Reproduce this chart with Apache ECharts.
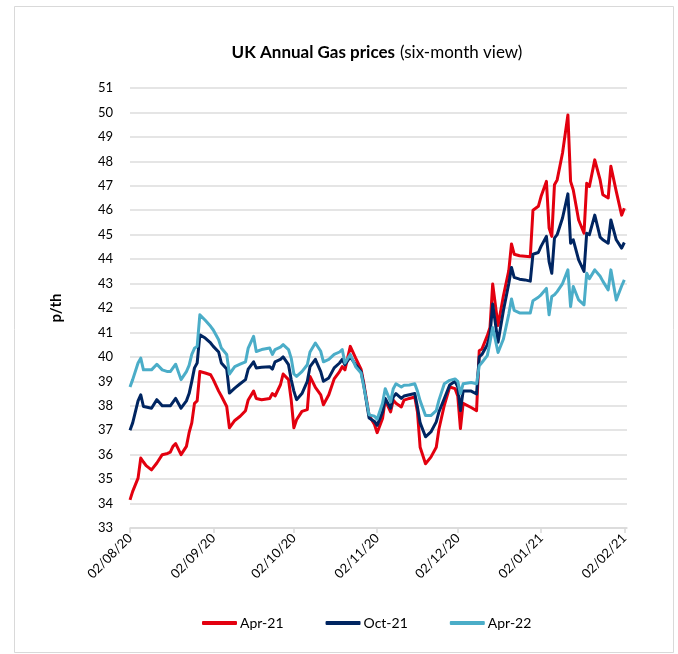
<!DOCTYPE html>
<html>
<head>
<meta charset="utf-8">
<script src="https://cdn.jsdelivr.net/npm/echarts@6/dist/echarts.min.js"></script>
<style>
html,body{margin:0;padding:0;background:#fff;}
#chart{width:678px;height:654px;}
</style>
</head>
<body>
<div id="chart"></div>
<script>
const dates = [
'2020-08-02','2020-08-03','2020-08-05','2020-08-06','2020-08-07','2020-08-08','2020-08-10','2020-08-12','2020-08-14','2020-08-16','2020-08-17','2020-08-18','2020-08-19','2020-08-21','2020-08-23','2020-08-24','2020-08-25','2020-08-26','2020-08-27','2020-08-28','2020-08-30',
'2020-09-01','2020-09-02','2020-09-04','2020-09-05','2020-09-07','2020-09-08','2020-09-10','2020-09-12','2020-09-14','2020-09-15','2020-09-17','2020-09-18','2020-09-20','2020-09-23','2020-09-24','2020-09-25','2020-09-27','2020-09-28','2020-09-30',
'2020-10-01','2020-10-02','2020-10-03','2020-10-05','2020-10-07','2020-10-08','2020-10-10','2020-10-12','2020-10-13','2020-10-15','2020-10-17','2020-10-19','2020-10-20','2020-10-21','2020-10-23','2020-10-25','2020-10-27','2020-10-28','2020-10-30',
'2020-11-01','2020-11-02','2020-11-04','2020-11-05','2020-11-07','2020-11-08','2020-11-09','2020-11-11','2020-11-12','2020-11-14','2020-11-16','2020-11-17','2020-11-18','2020-11-20','2020-11-22','2020-11-24','2020-11-25','2020-11-27','2020-11-29',
'2020-12-01','2020-12-02','2020-12-03','2020-12-04','2020-12-07','2020-12-09','2020-12-10','2020-12-11','2020-12-13','2020-12-14','2020-12-15','2020-12-17','2020-12-19','2020-12-21','2020-12-22','2020-12-23','2020-12-25','2020-12-27','2020-12-29','2020-12-30',
'2021-01-01','2021-01-02','2021-01-04','2021-01-05','2021-01-06','2021-01-07','2021-01-08','2021-01-10','2021-01-12','2021-01-13','2021-01-14','2021-01-16','2021-01-18','2021-01-19','2021-01-20','2021-01-22','2021-01-24','2021-01-25','2021-01-27','2021-01-28','2021-01-30',
'2021-02-01','2021-02-02'
];
const apr21 = [
34.15,34.5,35.04,35.86,35.7,35.55,35.38,35.66,36.0,36.05,36.1,36.34,36.45,36.0,36.34,36.9,37.3,38.1,38.2,39.4,39.34,
39.27,39.07,38.6,38.4,37.97,37.1,37.4,37.57,37.8,38.24,38.6,38.3,38.25,38.3,38.5,38.4,38.86,39.3,39.07,
38.24,37.1,37.43,37.77,37.84,39.2,38.75,38.45,38.04,38.45,39.1,39.4,39.6,39.47,40.43,39.95,39.5,38.93,37.6,
37.23,36.9,37.48,38.23,37.75,38.23,38.1,37.95,38.23,38.3,38.36,37.75,36.3,35.63,35.9,36.3,37.05,38.02,38.77,
38.7,38.4,37.07,38.1,37.93,37.8,40.25,40.32,40.87,41.2,42.98,41.28,42.5,43.53,44.62,44.2,44.14,44.12,44.1,46.0,
46.16,46.56,47.18,45.27,44.93,47.04,47.24,48.34,49.9,47.18,46.83,45.6,45.06,47.1,46.97,48.06,47.24,46.63,46.5,47.8,46.77,
45.8,46.08
];
const oct21 = [
37.0,37.3,38.2,38.45,37.97,37.95,37.9,38.25,38.0,38.0,38.0,38.15,38.3,37.9,38.2,38.5,39.0,39.55,39.75,40.9,40.77,
40.57,40.43,40.2,39.75,39.5,38.52,38.72,38.9,39.07,39.5,39.8,39.55,39.58,39.6,39.5,39.8,39.9,40.0,39.68,
39.07,38.6,38.25,38.5,39.0,39.6,39.9,39.4,39.0,39.14,39.55,39.75,39.9,39.68,40.0,39.68,39.4,38.86,37.5,
37.36,37.2,37.75,38.3,37.9,38.36,38.5,38.3,38.4,38.45,38.5,37.95,37.3,36.73,36.93,37.34,37.75,38.3,38.85,
39.0,38.77,37.8,38.6,38.6,38.48,40.0,40.1,40.5,40.9,42.16,40.6,41.9,43.0,43.66,43.25,43.18,43.15,43.1,44.2,
44.27,44.52,44.93,43.9,43.42,44.86,45.0,45.68,46.67,44.65,44.79,43.97,43.5,45.06,45.0,45.8,44.9,44.79,44.65,45.6,44.79,
44.45,44.68
];
const apr22 = [
38.77,39.07,39.75,39.95,39.47,39.47,39.47,39.7,39.47,39.4,39.4,39.55,39.7,39.07,39.4,39.65,40.1,40.35,40.43,41.72,41.5,
41.25,41.1,40.7,40.36,40.1,39.3,39.6,39.7,39.8,40.36,40.84,40.22,40.3,40.36,40.1,40.3,40.4,40.5,40.3,
39.95,39.3,39.2,39.4,39.68,40.2,40.57,40.23,39.8,39.9,40.1,40.2,40.3,39.75,40.1,39.6,39.34,38.8,37.63,
37.57,37.45,38.1,38.7,38.16,38.7,38.9,38.77,38.84,38.85,38.9,38.6,38.2,37.6,37.6,37.8,38.23,38.9,39.04,
39.1,39.0,38.5,38.9,38.95,38.9,39.64,39.77,40.05,40.6,41.2,40.18,40.73,41.75,42.37,41.9,41.8,41.8,41.8,42.3,
42.44,42.54,42.8,41.72,42.47,42.54,42.67,43.0,43.56,42.06,42.88,42.33,42.13,43.42,43.2,43.56,43.3,43.1,42.74,43.56,42.33,
42.9,43.15
];
const seriesNames = ['Apr-21','Oct-21','Apr-22'];
const seriesColors = ['#E3000F','#002561','#4BADC8'];
const yMin = 33, yMax = 51, yStep = 1;

function pad(n){return n<10?'0'+n:''+n;}
const axisDays = [];
for (let t = Date.UTC(2020,7,2); t <= Date.UTC(2021,1,3); t += 86400000) {
  const d = new Date(t);
  axisDays.push(d.getUTCFullYear()+'-'+pad(d.getUTCMonth()+1)+'-'+pad(d.getUTCDate()));
}
const isTickDay = (idx, val) => val.slice(8) === '02';

const font = 'Lato, "Open Sans", sans-serif';
const chart = echarts.init(document.getElementById('chart'), null, {renderer:'canvas'});
const valuesList = [apr21, oct21, apr22];
chart.setOption({
  animation: false,
  backgroundColor: '#fff',
  title: {
    text: '{b|UK Annual Gas prices} {n|(six-month view)}',
    left: 372, top: 39, textAlign: 'center',
    textStyle: {
      rich: {
        b: {fontFamily: font, fontSize: 17, fontWeight: 'bold', color: '#000'},
        n: {fontFamily: font, fontSize: 17, fontWeight: 'normal', color: '#000'}
      }
    }
  },
  graphic: [{
    type: 'rect', left: 12, top: 4, silent: true,
    shape: {width: 659, height: 646},
    style: {fill: 'none', stroke: '#d9d9d9', lineWidth: 1}
  }],
  legend: {
    left: 197, top: 611,
    itemWidth: 35, itemHeight: 4, itemGap: 42,
    icon: 'roundRect',
    textStyle: {fontFamily: font, fontSize: 14, color: '#000', padding: [0,0,0,-2]},
    data: seriesNames
  },
  grid: {left: 130, right: 51, top: 88, bottom: 126, containLabel: false},
  xAxis: {
    type: 'category',
    data: axisDays,
    boundaryGap: false,
    axisLine: {lineStyle: {color: '#d9d9d9', width: 1.5}},
    axisTick: {show: true, interval: isTickDay, length: 5, lineStyle: {color: '#d9d9d9', width: 1.5}},
    axisLabel: {
      interval: isTickDay, rotate: 45, margin: 8,
      fontFamily: font, fontSize: 13, color: '#000',
      formatter: v => v.slice(8) + '/' + v.slice(5,7) + '/' + v.slice(2,4)
    },
    splitLine: {show: false}
  },
  yAxis: {
    type: 'value', min: yMin, max: yMax, interval: yStep,
    name: 'p/th', nameLocation: 'middle', nameGap: 66, nameRotate: 90,
    nameTextStyle: {fontFamily: font, fontSize: 15, fontWeight: 'bold', color: '#000'},
    axisLine: {show: false}, axisTick: {show: false},
    axisLabel: {margin: 17, fontFamily: font, fontSize: 13, color: '#000'},
    splitLine: {lineStyle: {color: '#dcdcdc', width: 1.5}}
  },
  series: seriesNames.map((name, k) => ({
    name: name,
    type: 'line',
    showSymbol: false,
    symbol: 'none',
    color: seriesColors[k],
    lineStyle: {width: 3, color: seriesColors[k], join: 'round'},
    data: dates.map((d, i) => [d, valuesList[k][i]])
  }))
});
</script>
</body>
</html>
